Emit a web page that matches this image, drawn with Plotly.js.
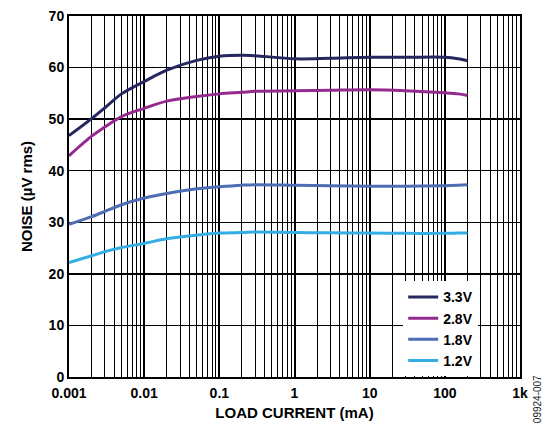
<!DOCTYPE html>
<html>
<head>
<meta charset="utf-8">
<script src="https://cdn.plot.ly/plotly-3.0.1.min.js"></script>
<style>html,body{margin:0;padding:0;background:#fff;}#chart{width:556px;height:432px;}</style>
</head>
<body>
<div id="chart"></div>
<script>
const loadCurrent = [0.001, 0.002, 0.003, 0.005, 0.01, 0.02, 0.05, 0.1, 0.2, 0.3, 1, 3, 10, 30, 100, 150, 200];
const noise33 = [46.8, 50.1, 52.2, 54.9, 57.3, 59.5, 61.4, 62.2, 62.4, 62.3, 61.7, 61.8, 62.0, 62.0, 62.0, 61.7, 61.3];
const noise28 = [42.9, 46.7, 48.5, 50.5, 52.1, 53.5, 54.4, 54.9, 55.2, 55.4, 55.5, 55.6, 55.7, 55.5, 55.1, 54.9, 54.6];
const noise18 = [29.6, 31.1, 32.1, 33.4, 34.7, 35.6, 36.5, 36.9, 37.2, 37.3, 37.2, 37.1, 37.0, 37.0, 37.1, 37.2, 37.3];
const noise12 = [22.2, 23.5, 24.3, 25.1, 25.9, 26.8, 27.5, 27.9, 28.0, 28.1, 28.0, 27.95, 27.9, 27.85, 27.85, 27.9, 27.9];
const seriesNames = ['3.3V', '2.8V', '1.8V', '1.2V'];
const xTickVals = [0.001, 0.01, 0.1, 1, 10, 100, 1000];
const xTickText = ['0.001', '0.01', '0.1', '1', '10', '100', '1k'];
const yTickVals = [0, 10, 20, 30, 40, 50, 60, 70];

const colors = ['#25275f', '#952a8e', '#4f6db3', '#33ade3'];
const ys = [noise33, noise28, noise18, noise12];
const traces = ys.map((y, i) => ({
  x: loadCurrent, y: y, name: seriesNames[i], type: 'scatter', mode: 'lines',
  line: {color: colors[i], width: 3, shape: 'spline', smoothing: 0.9}
}));

const fam = 'Liberation Sans, Arial, sans-serif';
const tickFont = {family: fam, size: 14, color: '#000', weight: 700};
const titleFont = {family: fam, size: 15, color: '#000', weight: 700};
const layout = {
  width: 556, height: 432,
  margin: {l: 69, r: 36, t: 16, b: 55},
  paper_bgcolor: '#fff', plot_bgcolor: '#fff',
  showlegend: true,
  legend: {x: 0.741, y: 0.265, xanchor: 'left', yanchor: 'top', bgcolor: '#fff',
    font: {family: fam, size: 14, color: '#000', weight: 700},
    tracegroupgap: 0, itemwidth: 30},
  xaxis: {
    type: 'log', range: [-3, 3], tickmode: 'array', tickvals: xTickVals, ticktext: xTickText,
    showgrid: true, gridcolor: '#000', gridwidth: 2,
    minor: {dtick: 'D1', showgrid: true, gridcolor: '#000', gridwidth: 1, ticks: ''},
    showline: true, linecolor: '#000', linewidth: 2, mirror: true, ticks: '',
    tickfont: tickFont, zeroline: false, ticklabelstandoff: 2,
    title: {text: 'LOAD CURRENT (mA)', font: titleFont, standoff: 8}
  },
  yaxis: {
    range: [0, 70], tickmode: 'array', tickvals: yTickVals,
    showgrid: true, gridcolor: '#000', gridwidth: 1.5,
    showline: true, linecolor: '#000', linewidth: 2, mirror: true, ticks: '',
    tickfont: tickFont, zeroline: false,
    title: {text: 'NOISE (µV rms)', font: titleFont, standoff: 12}
  },
  annotations: [{
    text: '09924-007', xref: 'paper', yref: 'paper', x: 1.038, y: -0.061,
    xanchor: 'center', yanchor: 'middle',
    showarrow: false, textangle: -90,
    font: {family: fam, size: 10, color: '#222'}
  }]
};
Plotly.newPlot('chart', traces, layout, {displayModeBar: false, staticPlot: true});
</script>
</body>
</html>
